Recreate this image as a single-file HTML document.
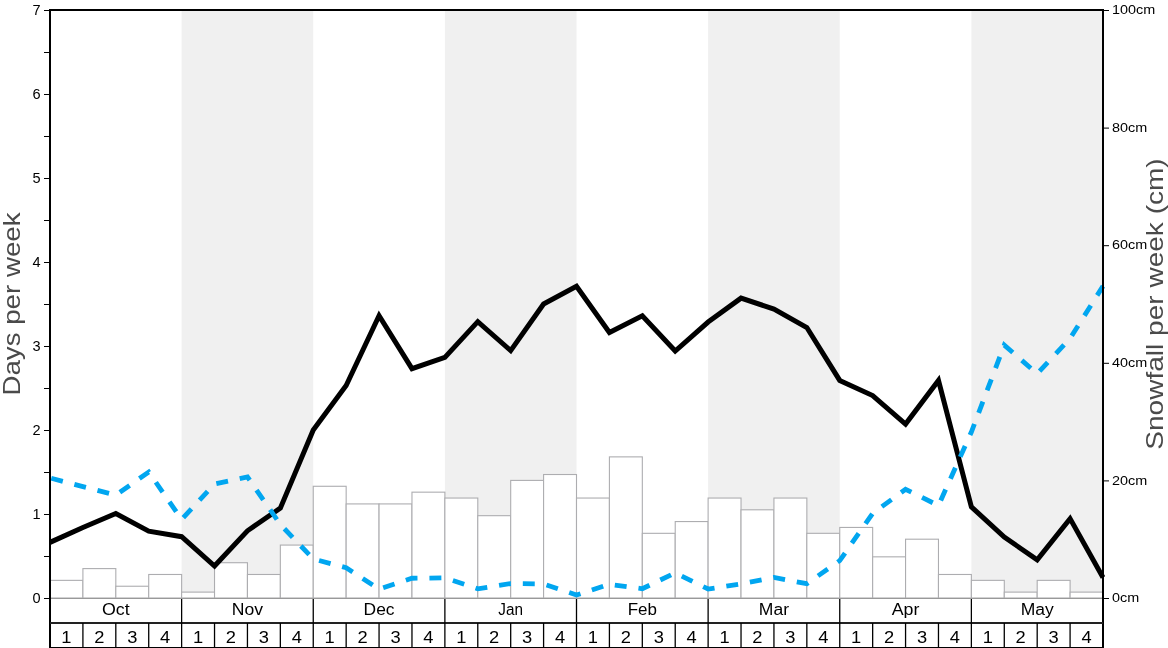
<!DOCTYPE html><html><head><meta charset="utf-8"><style>html,body{margin:0;padding:0;background:#fff;width:1168px;height:648px;overflow:hidden}svg{display:block;will-change:transform}text{font-family:"Liberation Sans",sans-serif}</style></head><body>
<svg width="1168" height="648" viewBox="0 0 1168 648">
<rect x="0" y="0" width="1168" height="648" fill="#fff"/>
<rect x="181.62" y="10" width="131.62" height="588.00" fill="#f0f0f0"/>
<rect x="444.88" y="10" width="131.62" height="588.00" fill="#f0f0f0"/>
<rect x="708.12" y="10" width="131.62" height="588.00" fill="#f0f0f0"/>
<rect x="971.38" y="10" width="131.62" height="588.00" fill="#f0f0f0"/>
<rect x="50.00" y="580.36" width="32.91" height="17.64" fill="#fff" stroke="#adadb0" stroke-width="1.1"/>
<rect x="82.91" y="568.60" width="32.91" height="29.40" fill="#fff" stroke="#adadb0" stroke-width="1.1"/>
<rect x="115.81" y="586.24" width="32.91" height="11.76" fill="#fff" stroke="#adadb0" stroke-width="1.1"/>
<rect x="148.72" y="574.48" width="32.91" height="23.52" fill="#fff" stroke="#adadb0" stroke-width="1.1"/>
<rect x="181.62" y="592.12" width="32.91" height="5.88" fill="#fff" stroke="#adadb0" stroke-width="1.1"/>
<rect x="214.53" y="562.72" width="32.91" height="35.28" fill="#fff" stroke="#adadb0" stroke-width="1.1"/>
<rect x="247.44" y="574.48" width="32.91" height="23.52" fill="#fff" stroke="#adadb0" stroke-width="1.1"/>
<rect x="280.34" y="545.08" width="32.91" height="52.92" fill="#fff" stroke="#adadb0" stroke-width="1.1"/>
<rect x="313.25" y="486.28" width="32.91" height="111.72" fill="#fff" stroke="#adadb0" stroke-width="1.1"/>
<rect x="346.16" y="503.92" width="32.91" height="94.08" fill="#fff" stroke="#adadb0" stroke-width="1.1"/>
<rect x="379.06" y="503.92" width="32.91" height="94.08" fill="#fff" stroke="#adadb0" stroke-width="1.1"/>
<rect x="411.97" y="492.16" width="32.91" height="105.84" fill="#fff" stroke="#adadb0" stroke-width="1.1"/>
<rect x="444.88" y="498.04" width="32.91" height="99.96" fill="#fff" stroke="#adadb0" stroke-width="1.1"/>
<rect x="477.78" y="515.68" width="32.91" height="82.32" fill="#fff" stroke="#adadb0" stroke-width="1.1"/>
<rect x="510.69" y="480.40" width="32.91" height="117.60" fill="#fff" stroke="#adadb0" stroke-width="1.1"/>
<rect x="543.59" y="474.52" width="32.91" height="123.48" fill="#fff" stroke="#adadb0" stroke-width="1.1"/>
<rect x="576.50" y="498.04" width="32.91" height="99.96" fill="#fff" stroke="#adadb0" stroke-width="1.1"/>
<rect x="609.41" y="456.88" width="32.91" height="141.12" fill="#fff" stroke="#adadb0" stroke-width="1.1"/>
<rect x="642.31" y="533.32" width="32.91" height="64.68" fill="#fff" stroke="#adadb0" stroke-width="1.1"/>
<rect x="675.22" y="521.56" width="32.91" height="76.44" fill="#fff" stroke="#adadb0" stroke-width="1.1"/>
<rect x="708.12" y="498.04" width="32.91" height="99.96" fill="#fff" stroke="#adadb0" stroke-width="1.1"/>
<rect x="741.03" y="509.80" width="32.91" height="88.20" fill="#fff" stroke="#adadb0" stroke-width="1.1"/>
<rect x="773.94" y="498.04" width="32.91" height="99.96" fill="#fff" stroke="#adadb0" stroke-width="1.1"/>
<rect x="806.84" y="533.32" width="32.91" height="64.68" fill="#fff" stroke="#adadb0" stroke-width="1.1"/>
<rect x="839.75" y="527.44" width="32.91" height="70.56" fill="#fff" stroke="#adadb0" stroke-width="1.1"/>
<rect x="872.66" y="556.84" width="32.91" height="41.16" fill="#fff" stroke="#adadb0" stroke-width="1.1"/>
<rect x="905.56" y="539.20" width="32.91" height="58.80" fill="#fff" stroke="#adadb0" stroke-width="1.1"/>
<rect x="938.47" y="574.48" width="32.91" height="23.52" fill="#fff" stroke="#adadb0" stroke-width="1.1"/>
<rect x="971.38" y="580.36" width="32.91" height="17.64" fill="#fff" stroke="#adadb0" stroke-width="1.1"/>
<rect x="1004.28" y="592.12" width="32.91" height="5.88" fill="#fff" stroke="#adadb0" stroke-width="1.1"/>
<rect x="1037.19" y="580.36" width="32.91" height="17.64" fill="#fff" stroke="#adadb0" stroke-width="1.1"/>
<rect x="1070.09" y="592.12" width="32.91" height="5.88" fill="#fff" stroke="#adadb0" stroke-width="1.1"/>
<line x1="50.0" y1="598.5" x2="1103.0" y2="598.5" stroke="#999" stroke-width="1.2"/>
<polyline points="50.00,542.39 82.91,527.44 115.81,513.50 148.72,531.22 181.62,536.68 214.53,566.08 247.44,530.80 280.34,508.12 313.25,430.00 346.16,385.48 379.06,315.76 411.97,368.68 444.88,357.34 477.78,321.64 510.69,350.62 543.59,304.00 576.50,286.36 609.41,332.56 642.31,315.76 675.22,351.04 708.12,322.06 741.03,298.12 773.94,309.04 806.84,327.52 839.75,380.44 872.66,395.56 905.56,424.12 938.47,380.44 971.38,506.86 1004.28,537.10 1037.19,559.78 1070.09,518.62 1103.00,577.42" fill="none" stroke="#000" stroke-width="5" stroke-linejoin="miter" stroke-miterlimit="10" stroke-linecap="butt"/>
<polyline points="50.00,477.96 82.91,486.57 115.81,495.18 148.72,472.00 181.62,519.46 214.53,483.93 247.44,476.87 280.34,524.50 313.25,558.94 346.16,567.76 379.06,589.18 411.97,578.26 444.88,577.84 477.78,588.76 510.69,583.55 543.59,583.97 576.50,595.06 609.41,584.31 642.31,588.76 675.22,572.80 708.12,589.01 741.03,583.89 773.94,577.42 806.84,583.72 839.75,560.62 872.66,513.33 905.56,489.30 938.47,505.60 971.38,432.02 1004.28,345.16 1037.19,373.72 1070.09,338.44 1103.00,286.11" fill="none" stroke="#01a6f0" stroke-width="4.8" stroke-dasharray="11.945 11.945" stroke-dashoffset="22.59" stroke-linejoin="miter" stroke-linecap="butt"/>
<rect x="50.0" y="599" width="1053.0" height="49" fill="#fff"/>
<line x1="50.0" y1="598.5" x2="1103.0" y2="598.5" stroke="#999" stroke-width="1.2"/>
<line x1="50.0" y1="9" x2="50.0" y2="648" stroke="#000" stroke-width="2"/>
<line x1="1103.0" y1="9" x2="1103.0" y2="648" stroke="#000" stroke-width="2"/>
<line x1="49.0" y1="10" x2="1104.0" y2="10" stroke="#000" stroke-width="2"/>
<line x1="50.0" y1="623" x2="1103.0" y2="623" stroke="#222" stroke-width="2"/>
<line x1="50.0" y1="648" x2="1103.0" y2="648" stroke="#000" stroke-width="2"/>
<line x1="181.62" y1="599" x2="181.62" y2="623" stroke="#000" stroke-width="1.3"/>
<line x1="313.25" y1="599" x2="313.25" y2="623" stroke="#000" stroke-width="1.3"/>
<line x1="444.88" y1="599" x2="444.88" y2="623" stroke="#000" stroke-width="1.3"/>
<line x1="576.50" y1="599" x2="576.50" y2="623" stroke="#000" stroke-width="1.3"/>
<line x1="708.12" y1="599" x2="708.12" y2="623" stroke="#000" stroke-width="1.3"/>
<line x1="839.75" y1="599" x2="839.75" y2="623" stroke="#000" stroke-width="1.3"/>
<line x1="971.38" y1="599" x2="971.38" y2="623" stroke="#000" stroke-width="1.3"/>
<line x1="82.91" y1="623" x2="82.91" y2="647" stroke="#000" stroke-width="1.3"/>
<line x1="115.81" y1="623" x2="115.81" y2="647" stroke="#000" stroke-width="1.3"/>
<line x1="148.72" y1="623" x2="148.72" y2="647" stroke="#000" stroke-width="1.3"/>
<line x1="181.62" y1="623" x2="181.62" y2="647" stroke="#000" stroke-width="1.3"/>
<line x1="214.53" y1="623" x2="214.53" y2="647" stroke="#000" stroke-width="1.3"/>
<line x1="247.44" y1="623" x2="247.44" y2="647" stroke="#000" stroke-width="1.3"/>
<line x1="280.34" y1="623" x2="280.34" y2="647" stroke="#000" stroke-width="1.3"/>
<line x1="313.25" y1="623" x2="313.25" y2="647" stroke="#000" stroke-width="1.3"/>
<line x1="346.16" y1="623" x2="346.16" y2="647" stroke="#000" stroke-width="1.3"/>
<line x1="379.06" y1="623" x2="379.06" y2="647" stroke="#000" stroke-width="1.3"/>
<line x1="411.97" y1="623" x2="411.97" y2="647" stroke="#000" stroke-width="1.3"/>
<line x1="444.88" y1="623" x2="444.88" y2="647" stroke="#000" stroke-width="1.3"/>
<line x1="477.78" y1="623" x2="477.78" y2="647" stroke="#000" stroke-width="1.3"/>
<line x1="510.69" y1="623" x2="510.69" y2="647" stroke="#000" stroke-width="1.3"/>
<line x1="543.59" y1="623" x2="543.59" y2="647" stroke="#000" stroke-width="1.3"/>
<line x1="576.50" y1="623" x2="576.50" y2="647" stroke="#000" stroke-width="1.3"/>
<line x1="609.41" y1="623" x2="609.41" y2="647" stroke="#000" stroke-width="1.3"/>
<line x1="642.31" y1="623" x2="642.31" y2="647" stroke="#000" stroke-width="1.3"/>
<line x1="675.22" y1="623" x2="675.22" y2="647" stroke="#000" stroke-width="1.3"/>
<line x1="708.12" y1="623" x2="708.12" y2="647" stroke="#000" stroke-width="1.3"/>
<line x1="741.03" y1="623" x2="741.03" y2="647" stroke="#000" stroke-width="1.3"/>
<line x1="773.94" y1="623" x2="773.94" y2="647" stroke="#000" stroke-width="1.3"/>
<line x1="806.84" y1="623" x2="806.84" y2="647" stroke="#000" stroke-width="1.3"/>
<line x1="839.75" y1="623" x2="839.75" y2="647" stroke="#000" stroke-width="1.3"/>
<line x1="872.66" y1="623" x2="872.66" y2="647" stroke="#000" stroke-width="1.3"/>
<line x1="905.56" y1="623" x2="905.56" y2="647" stroke="#000" stroke-width="1.3"/>
<line x1="938.47" y1="623" x2="938.47" y2="647" stroke="#000" stroke-width="1.3"/>
<line x1="971.38" y1="623" x2="971.38" y2="647" stroke="#000" stroke-width="1.3"/>
<line x1="1004.28" y1="623" x2="1004.28" y2="647" stroke="#000" stroke-width="1.3"/>
<line x1="1037.19" y1="623" x2="1037.19" y2="647" stroke="#000" stroke-width="1.3"/>
<line x1="1070.09" y1="623" x2="1070.09" y2="647" stroke="#000" stroke-width="1.3"/>
<text x="115.81" y="615" font-size="16" text-anchor="middle" textLength="27.66" lengthAdjust="spacingAndGlyphs" fill="#000">Oct</text>
<text x="66.45" y="643" font-size="16" text-anchor="middle" textLength="10.18" lengthAdjust="spacingAndGlyphs" fill="#000">1</text>
<text x="99.36" y="643" font-size="16" text-anchor="middle" textLength="10.18" lengthAdjust="spacingAndGlyphs" fill="#000">2</text>
<text x="132.27" y="643" font-size="16" text-anchor="middle" textLength="10.18" lengthAdjust="spacingAndGlyphs" fill="#000">3</text>
<text x="165.17" y="643" font-size="16" text-anchor="middle" textLength="10.18" lengthAdjust="spacingAndGlyphs" fill="#000">4</text>
<text x="247.44" y="615" font-size="16" text-anchor="middle" textLength="31.23" lengthAdjust="spacingAndGlyphs" fill="#000">Nov</text>
<text x="198.08" y="643" font-size="16" text-anchor="middle" textLength="10.18" lengthAdjust="spacingAndGlyphs" fill="#000">1</text>
<text x="230.98" y="643" font-size="16" text-anchor="middle" textLength="10.18" lengthAdjust="spacingAndGlyphs" fill="#000">2</text>
<text x="263.89" y="643" font-size="16" text-anchor="middle" textLength="10.18" lengthAdjust="spacingAndGlyphs" fill="#000">3</text>
<text x="296.80" y="643" font-size="16" text-anchor="middle" textLength="10.18" lengthAdjust="spacingAndGlyphs" fill="#000">4</text>
<text x="379.06" y="615" font-size="16" text-anchor="middle" textLength="30.96" lengthAdjust="spacingAndGlyphs" fill="#000">Dec</text>
<text x="329.70" y="643" font-size="16" text-anchor="middle" textLength="10.18" lengthAdjust="spacingAndGlyphs" fill="#000">1</text>
<text x="362.61" y="643" font-size="16" text-anchor="middle" textLength="10.18" lengthAdjust="spacingAndGlyphs" fill="#000">2</text>
<text x="395.52" y="643" font-size="16" text-anchor="middle" textLength="10.18" lengthAdjust="spacingAndGlyphs" fill="#000">3</text>
<text x="428.42" y="643" font-size="16" text-anchor="middle" textLength="10.18" lengthAdjust="spacingAndGlyphs" fill="#000">4</text>
<text x="510.69" y="615" font-size="16" text-anchor="middle" textLength="24.66" lengthAdjust="spacingAndGlyphs" fill="#000">Jan</text>
<text x="461.33" y="643" font-size="16" text-anchor="middle" textLength="10.18" lengthAdjust="spacingAndGlyphs" fill="#000">1</text>
<text x="494.23" y="643" font-size="16" text-anchor="middle" textLength="10.18" lengthAdjust="spacingAndGlyphs" fill="#000">2</text>
<text x="527.14" y="643" font-size="16" text-anchor="middle" textLength="10.18" lengthAdjust="spacingAndGlyphs" fill="#000">3</text>
<text x="560.05" y="643" font-size="16" text-anchor="middle" textLength="10.18" lengthAdjust="spacingAndGlyphs" fill="#000">4</text>
<text x="642.31" y="615" font-size="16" text-anchor="middle" textLength="29.22" lengthAdjust="spacingAndGlyphs" fill="#000">Feb</text>
<text x="592.95" y="643" font-size="16" text-anchor="middle" textLength="10.18" lengthAdjust="spacingAndGlyphs" fill="#000">1</text>
<text x="625.86" y="643" font-size="16" text-anchor="middle" textLength="10.18" lengthAdjust="spacingAndGlyphs" fill="#000">2</text>
<text x="658.77" y="643" font-size="16" text-anchor="middle" textLength="10.18" lengthAdjust="spacingAndGlyphs" fill="#000">3</text>
<text x="691.67" y="643" font-size="16" text-anchor="middle" textLength="10.18" lengthAdjust="spacingAndGlyphs" fill="#000">4</text>
<text x="773.94" y="615" font-size="16" text-anchor="middle" textLength="30.19" lengthAdjust="spacingAndGlyphs" fill="#000">Mar</text>
<text x="724.58" y="643" font-size="16" text-anchor="middle" textLength="10.18" lengthAdjust="spacingAndGlyphs" fill="#000">1</text>
<text x="757.48" y="643" font-size="16" text-anchor="middle" textLength="10.18" lengthAdjust="spacingAndGlyphs" fill="#000">2</text>
<text x="790.39" y="643" font-size="16" text-anchor="middle" textLength="10.18" lengthAdjust="spacingAndGlyphs" fill="#000">3</text>
<text x="823.30" y="643" font-size="16" text-anchor="middle" textLength="10.18" lengthAdjust="spacingAndGlyphs" fill="#000">4</text>
<text x="905.56" y="615" font-size="16" text-anchor="middle" textLength="27.68" lengthAdjust="spacingAndGlyphs" fill="#000">Apr</text>
<text x="856.20" y="643" font-size="16" text-anchor="middle" textLength="10.18" lengthAdjust="spacingAndGlyphs" fill="#000">1</text>
<text x="889.11" y="643" font-size="16" text-anchor="middle" textLength="10.18" lengthAdjust="spacingAndGlyphs" fill="#000">2</text>
<text x="922.02" y="643" font-size="16" text-anchor="middle" textLength="10.18" lengthAdjust="spacingAndGlyphs" fill="#000">3</text>
<text x="954.92" y="643" font-size="16" text-anchor="middle" textLength="10.18" lengthAdjust="spacingAndGlyphs" fill="#000">4</text>
<text x="1037.19" y="615" font-size="16" text-anchor="middle" textLength="33.08" lengthAdjust="spacingAndGlyphs" fill="#000">May</text>
<text x="987.83" y="643" font-size="16" text-anchor="middle" textLength="10.18" lengthAdjust="spacingAndGlyphs" fill="#000">1</text>
<text x="1020.73" y="643" font-size="16" text-anchor="middle" textLength="10.18" lengthAdjust="spacingAndGlyphs" fill="#000">2</text>
<text x="1053.64" y="643" font-size="16" text-anchor="middle" textLength="10.18" lengthAdjust="spacingAndGlyphs" fill="#000">3</text>
<text x="1086.55" y="643" font-size="16" text-anchor="middle" textLength="10.18" lengthAdjust="spacingAndGlyphs" fill="#000">4</text>
<line x1="44" y1="598.50" x2="49" y2="598.50" stroke="#000" stroke-width="1"/>
<text x="40.5" y="602.80" font-size="14" text-anchor="end" textLength="8.1" lengthAdjust="spacingAndGlyphs" fill="#000">0</text>
<line x1="44" y1="556.50" x2="49" y2="556.50" stroke="#000" stroke-width="1"/>
<line x1="44" y1="514.50" x2="49" y2="514.50" stroke="#000" stroke-width="1"/>
<text x="40.5" y="518.80" font-size="14" text-anchor="end" textLength="8.1" lengthAdjust="spacingAndGlyphs" fill="#000">1</text>
<line x1="44" y1="472.50" x2="49" y2="472.50" stroke="#000" stroke-width="1"/>
<line x1="44" y1="430.50" x2="49" y2="430.50" stroke="#000" stroke-width="1"/>
<text x="40.5" y="434.80" font-size="14" text-anchor="end" textLength="8.1" lengthAdjust="spacingAndGlyphs" fill="#000">2</text>
<line x1="44" y1="388.50" x2="49" y2="388.50" stroke="#000" stroke-width="1"/>
<line x1="44" y1="346.50" x2="49" y2="346.50" stroke="#000" stroke-width="1"/>
<text x="40.5" y="350.80" font-size="14" text-anchor="end" textLength="8.1" lengthAdjust="spacingAndGlyphs" fill="#000">3</text>
<line x1="44" y1="304.50" x2="49" y2="304.50" stroke="#000" stroke-width="1"/>
<line x1="44" y1="262.50" x2="49" y2="262.50" stroke="#000" stroke-width="1"/>
<text x="40.5" y="266.80" font-size="14" text-anchor="end" textLength="8.1" lengthAdjust="spacingAndGlyphs" fill="#000">4</text>
<line x1="44" y1="220.50" x2="49" y2="220.50" stroke="#000" stroke-width="1"/>
<line x1="44" y1="178.50" x2="49" y2="178.50" stroke="#000" stroke-width="1"/>
<text x="40.5" y="182.80" font-size="14" text-anchor="end" textLength="8.1" lengthAdjust="spacingAndGlyphs" fill="#000">5</text>
<line x1="44" y1="136.50" x2="49" y2="136.50" stroke="#000" stroke-width="1"/>
<line x1="44" y1="94.50" x2="49" y2="94.50" stroke="#000" stroke-width="1"/>
<text x="40.5" y="98.80" font-size="14" text-anchor="end" textLength="8.1" lengthAdjust="spacingAndGlyphs" fill="#000">6</text>
<line x1="44" y1="52.50" x2="49" y2="52.50" stroke="#000" stroke-width="1"/>
<line x1="44" y1="10.50" x2="49" y2="10.50" stroke="#000" stroke-width="1"/>
<text x="40.5" y="14.80" font-size="14" text-anchor="end" textLength="8.1" lengthAdjust="spacingAndGlyphs" fill="#000">7</text>
<line x1="1104" y1="598.50" x2="1109" y2="598.50" stroke="#000" stroke-width="1"/>
<text x="1112" y="602.10" font-size="12.8" textLength="27.22" lengthAdjust="spacingAndGlyphs" fill="#000">0cm</text>
<line x1="1104" y1="480.90" x2="1109" y2="480.90" stroke="#000" stroke-width="1"/>
<text x="1112" y="484.50" font-size="12.8" textLength="35.23" lengthAdjust="spacingAndGlyphs" fill="#000">20cm</text>
<line x1="1104" y1="363.30" x2="1109" y2="363.30" stroke="#000" stroke-width="1"/>
<text x="1112" y="366.90" font-size="12.8" textLength="35.23" lengthAdjust="spacingAndGlyphs" fill="#000">40cm</text>
<line x1="1104" y1="245.70" x2="1109" y2="245.70" stroke="#000" stroke-width="1"/>
<text x="1112" y="249.30" font-size="12.8" textLength="35.23" lengthAdjust="spacingAndGlyphs" fill="#000">60cm</text>
<line x1="1104" y1="128.10" x2="1109" y2="128.10" stroke="#000" stroke-width="1"/>
<text x="1112" y="131.70" font-size="12.8" textLength="35.23" lengthAdjust="spacingAndGlyphs" fill="#000">80cm</text>
<line x1="1104" y1="10.50" x2="1109" y2="10.50" stroke="#000" stroke-width="1"/>
<text x="1112" y="14.10" font-size="12.8" textLength="43.25" lengthAdjust="spacingAndGlyphs" fill="#000">100cm</text>
<text transform="translate(20,304) rotate(-90)" font-size="24.5" text-anchor="middle" textLength="183.2" lengthAdjust="spacingAndGlyphs" fill="#4a4a4a">Days per week</text>
<text transform="translate(1163,304) rotate(-90)" font-size="24.5" text-anchor="middle" textLength="291.4" lengthAdjust="spacingAndGlyphs" fill="#4a4a4a">Snowfall per week (cm)</text>
</svg></body></html>
